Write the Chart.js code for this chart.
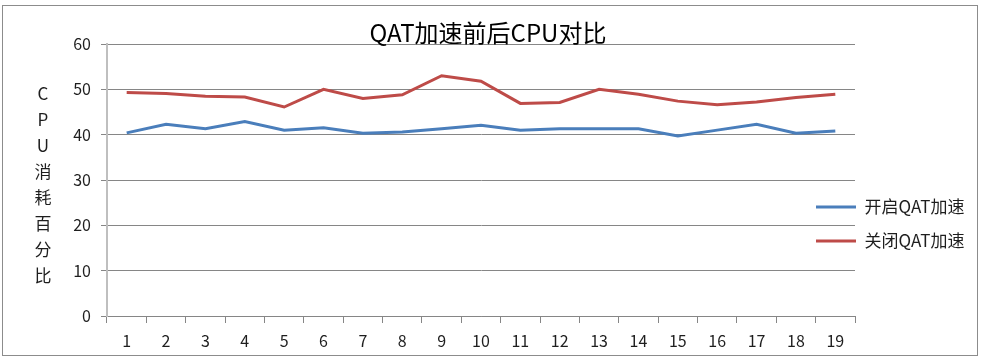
<!DOCTYPE html>
<html>
<head>
<meta charset="utf-8">
<script src="https://cdn.jsdelivr.net/npm/chart.js@4/dist/chart.umd.min.js"></script>
<style>
  html, body { margin: 0; padding: 0; background: #ffffff; }
  #wrap { position: relative; width: 982px; height: 358px; overflow: hidden; }
  #frame { position: absolute; left: 2px; top: 5px; width: 974px; height: 349px; border: 1px solid #8c8c8c; }
  canvas { position: absolute; left: 0; top: 0; }
</style>
</head>
<body>
<div id="wrap">
  <div id="frame"></div>
  <canvas id="c" width="982" height="358"></canvas>
</div>
<script>
const categories = ["1","2","3","4","5","6","7","8","9","10","11","12","13","14","15","16","17","18","19"];
const seriesOn  = [40.4, 42.3, 41.3, 42.9, 41.0, 41.5, 40.3, 40.6, 41.3, 42.1, 41.0, 41.3, 41.3, 41.3, 39.7, 41.0, 42.3, 40.3, 40.8];
const seriesOff = [49.3, 49.1, 48.5, 48.3, 46.1, 50.0, 48.0, 48.8, 53.0, 51.8, 46.9, 47.1, 50.0, 48.9, 47.4, 46.6, 47.2, 48.2, 48.9];
const seriesNames = ["开启QAT加速", "关闭QAT加速"];
const chartTitle = "QAT加速前后CPU对比";
const yTitleChars = ["C", "P", "U", "消", "耗", "百", "分", "比"];
const yMin = 0, yMax = 60, yStep = 10;

const FONT = '"Noto Sans CJK SC", "Noto Sans", sans-serif';
const TEXT = '#1e1e1e';

const yTitlePlugin = {
  id: 'yTitleStack',
  afterDraw(chart) {
    const ctx = chart.ctx;
    ctx.save();
    ctx.fillStyle = TEXT;
    ctx.font = '17px ' + FONT;
    ctx.textAlign = 'center';
    ctx.textBaseline = 'middle';
    yTitleChars.forEach((ch, i) => ctx.fillText(ch, 43, 94 + i * 25.9));
    ctx.restore();
  }
};

const boxPlace = {
  id: 'boxPlace',
  afterLayout(chart) {
    const l = chart.legend;
    if (l) {
      l.left = 799; l.right = 982;
      l.top = 181.5; l.bottom = 358;
      l.width = l.right - l.left; l.height = l.bottom - l.top;
    }
    const t = chart.titleBlock;
    if (t) {
      t.left = 0; t.right = 976; t.width = 976;
    }
  }
};

new Chart(document.getElementById('c'), {
  type: 'line',
  data: {
    labels: categories,
    datasets: [
      { label: seriesNames[0], data: seriesOn, borderColor: '#4A7EBB', backgroundColor: '#4A7EBB',
        borderWidth: 3, pointRadius: 0, tension: 0, fill: false },
      { label: seriesNames[1], data: seriesOff, borderColor: '#BE4B48', backgroundColor: '#BE4B48',
        borderWidth: 3, pointRadius: 0, tension: 0, fill: false }
    ]
  },
  options: {
    responsive: false,
    animation: false,
    devicePixelRatio: 1,
    layout: { padding: { left: 60, right: 127, top: 0, bottom: 0 } },
    plugins: {
      title: {
        display: true, text: chartTitle, color: '#000000',
        font: { family: FONT, size: 24, weight: 'normal', lineHeight: 1 },
        padding: { top: 21, bottom: -1 }
      },
      legend: {
        display: true, position: 'chartArea', align: 'start',
        labels: {
          usePointStyle: true, pointStyle: 'line', pointStyleWidth: 40,
          padding: 17, color: TEXT,
          font: { family: FONT, size: 17 }
        }
      },
      tooltip: { enabled: false }
    },
    scales: {
      x: {
        type: 'category', offset: true,
        grid: { offset: true, drawOnChartArea: false, drawTicks: true, tickLength: 7, color: '#868686', lineWidth: 1 },
        border: { display: true, color: '#868686', width: 1 },
        ticks: { color: TEXT, font: { family: FONT, size: 16 }, padding: 8, maxRotation: 0, autoSkip: false },
        afterFit(scale) { scale.height = 42; }
      },
      y: {
        min: yMin, max: yMax,
        grid: { color: '#868686', lineWidth: 1, drawTicks: true, tickLength: 6 },
        border: { display: true, color: '#BFBFBF', width: 2 },
        ticks: { stepSize: yStep, color: TEXT, font: { family: FONT, size: 16 }, padding: 10 },
        afterFit(scale) { scale.width = 47; }
      }
    }
  },
  plugins: [yTitlePlugin, boxPlace]
});
</script>
</body>
</html>
